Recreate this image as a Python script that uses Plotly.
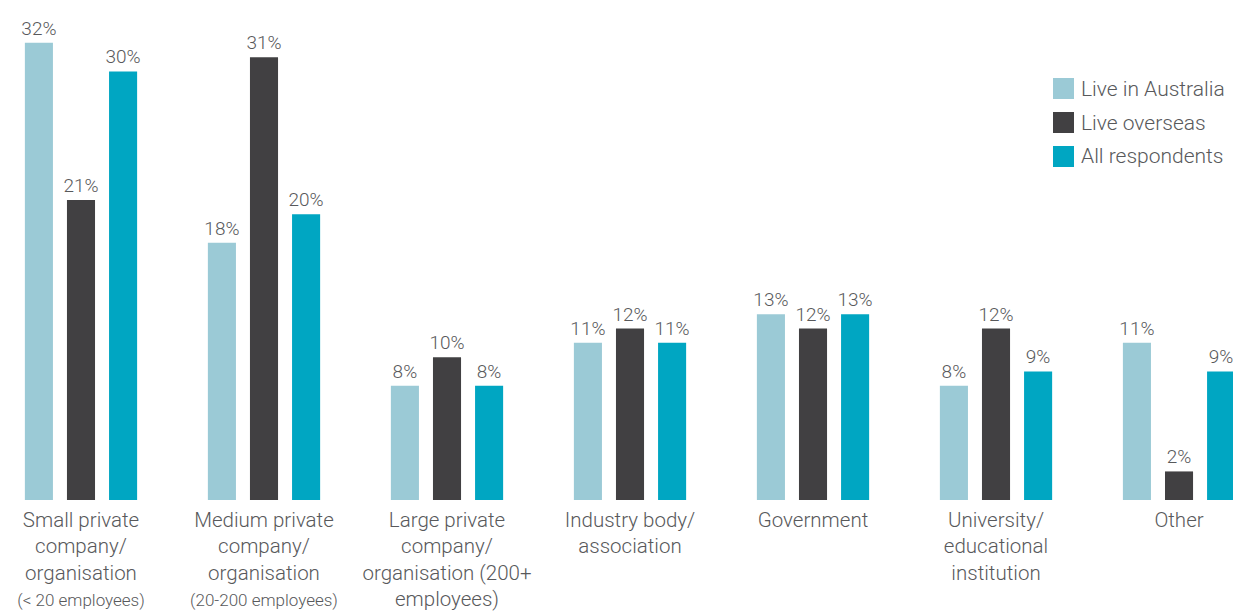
import plotly.graph_objects as go

# Survey: type of employer, by where respondents live
categories = [
    "Small private<br>company/<br>organisation<br><span style='font-size:17px'>(&lt; 20 employees)</span>",
    "Medium private<br>company/<br>organisation<br><span style='font-size:17px'>(20-200 employees)</span>",
    "Large private<br>company/<br>organisation (200+<br>employees)",
    "Industry body/<br>association",
    "Government",
    "University/<br>educational<br>institution",
    "Other",
]
live_in_australia = [32, 18, 8, 11, 13, 8, 11]
live_overseas = [21, 31, 10, 12, 12, 12, 2]
all_respondents = [30, 20, 8, 11, 13, 9, 9]

series_names = ["Live in Australia", "Live overseas", "All respondents"]
series_colors = ["#9BCAD6", "#414042", "#00A6C2"]
series_values = [live_in_australia, live_overseas, all_respondents]

FONT = "Roboto"
TEXT_COLOR = "#58595B"

fig = go.Figure()
for name, color, vals in zip(series_names, series_colors, series_values):
    fig.add_trace(go.Bar(
        x=list(range(len(categories))),
        y=vals,
        name=name,
        marker=dict(color=color, line=dict(width=0)),
        text=[f"{v}%" for v in vals],
        textposition="outside",
        constraintext="none",
        textfont=dict(family=FONT, size=19, color=TEXT_COLOR, weight=300),
        cliponaxis=False,
        showlegend=False,
        hoverinfo="skip",
    ))

# Legend drawn as square swatches with labels
W, H = 1233, 500
legend_x0 = 1053
legend_top = [78, 112, 146]
sw = 21
for name, color, top in zip(series_names, series_colors, legend_top):
    fig.add_shape(
        type="rect", xref="paper", yref="paper",
        x0=legend_x0 / W, x1=(legend_x0 + sw) / W,
        y0=1 - (top + sw) / H, y1=1 - top / H,
        fillcolor=color, line=dict(width=0),
    )
    fig.add_annotation(
        xref="paper", yref="paper",
        x=(legend_x0 + sw + 5) / W, y=1 - (top + sw / 2) / H,
        text=name, showarrow=False, xanchor="left", yanchor="middle",
        font=dict(family=FONT, size=21, color=TEXT_COLOR, weight=300),
    )

fig.update_layout(
    width=1233, height=612,
    margin=dict(l=0, r=0, t=0, b=112, autoexpand=False),
    paper_bgcolor="white", plot_bgcolor="white",
    barmode="group", bargap=0.31, bargroupgap=0.333,
    font=dict(family=FONT, color=TEXT_COLOR, weight=300),
    xaxis=dict(
        tickmode="array",
        tickvals=list(range(len(categories))),
        ticktext=categories,
        range=[-0.4426, 6.295],
        automargin=False,
        showgrid=False, zeroline=False, showline=False, ticks="",
        ticklabelstandoff=5,
        tickfont=dict(family=FONT, size=20.5, color=TEXT_COLOR, weight=300),
    ),
    yaxis=dict(
        range=[0, 35], visible=False, showgrid=False, zeroline=False,
        automargin=False,
    ),
)

fig.write_html("out.html")
